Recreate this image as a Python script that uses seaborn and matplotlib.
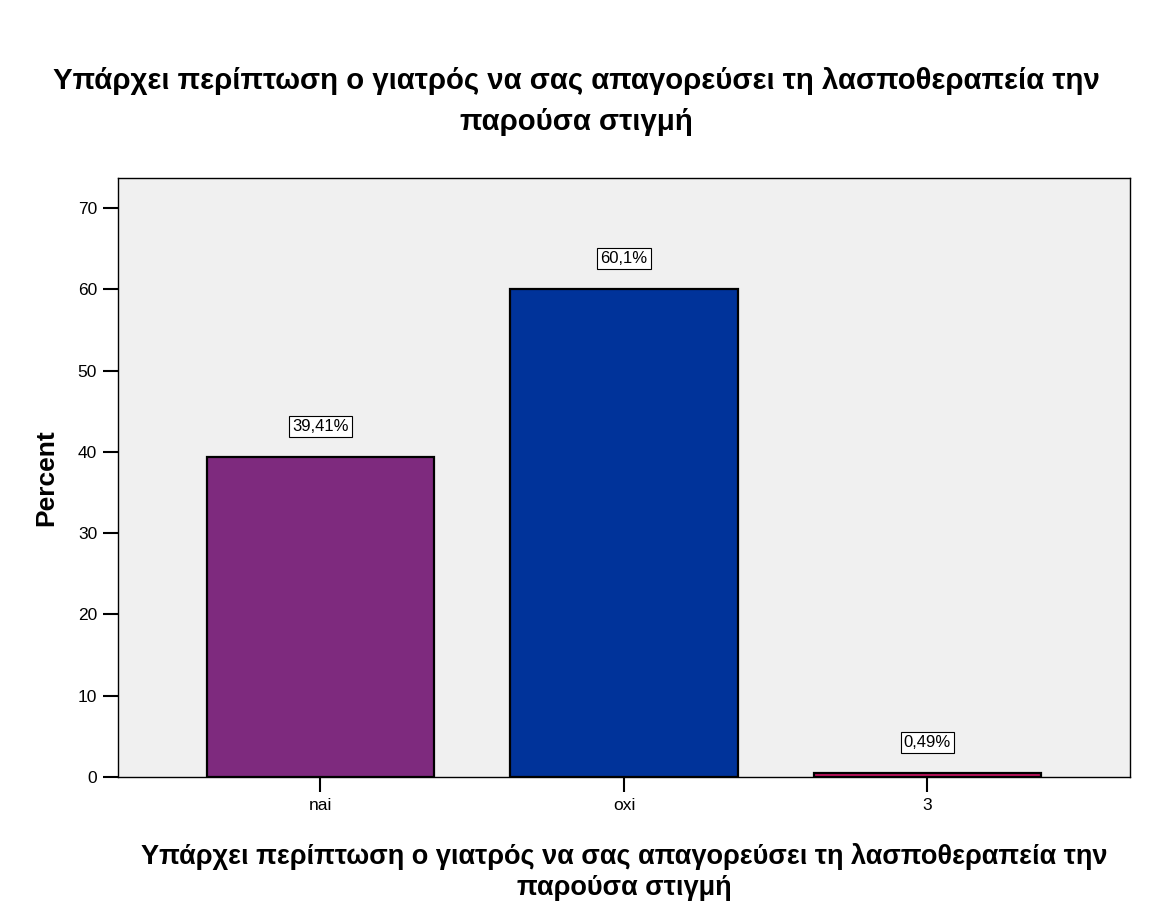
import matplotlib
matplotlib.use("Agg")
import matplotlib.pyplot as plt
import seaborn as sns
import pandas as pd

categories = ["nai", "oxi", "3"]
percents = [39.41, 60.1, 0.49]
labels = ["39,41%", "60,1%", "0,49%"]
colors = ["#7E2A7E", "#00339A", "#C2125E"]
title = "Υπάρχει περίπτωση ο γιατρός να σας απαγορεύσει τη λασποθεραπεία την\nπαρούσα στιγμή"

sns.set_theme(style="white")
plt.rcParams['font.family'] = ['Liberation Sans', 'DejaVu Sans']
plt.rcParams['text.color'] = 'black'
plt.rcParams['axes.labelcolor'] = 'black'

df = pd.DataFrame({"cat": categories, "pct": percents})

fig = plt.figure(figsize=(11.53, 9.22), dpi=100)
ax = fig.add_axes([0.1023, 0.1573, 0.8777, 0.6496])
ax.set_facecolor("#F0F0F0")

sns.barplot(data=df, x="cat", y="pct", hue="cat", palette=colors, order=categories,
            width=0.75, edgecolor="black", linewidth=1.6, legend=False, ax=ax, saturation=1)

for i, (v, lab) in enumerate(zip(percents, labels)):
    ax.text(i, v + 3.7, lab, ha="center", va="center", fontsize=12, color="black",
            bbox=dict(boxstyle="square,pad=0.18", fc="white", ec="black", lw=0.8))

ax.set_xlim(-0.667, 2.667)
ax.set_ylim(0, 73.7)
ax.set_yticks([0, 10, 20, 30, 40, 50, 60, 70])
ax.tick_params(axis="both", direction="out", length=11, width=1.5, labelsize=12.5,
               colors="black", bottom=True, left=True, pad=4)
for s in ax.spines.values():
    s.set_color("black")
    s.set_linewidth(1.0)

ax.set_ylabel("Percent", fontsize=19, fontweight="bold", labelpad=14, color="black")
ax.set_xlabel(title, fontsize=19.5, fontweight="bold", labelpad=22, linespacing=1.23,
              color="black")
fig.text(0.5, 0.89, title, fontsize=21.2, fontweight="bold", ha="center", va="center",
         linespacing=1.58, color="black")

fig.savefig("out.png", dpi=100, facecolor="white")
